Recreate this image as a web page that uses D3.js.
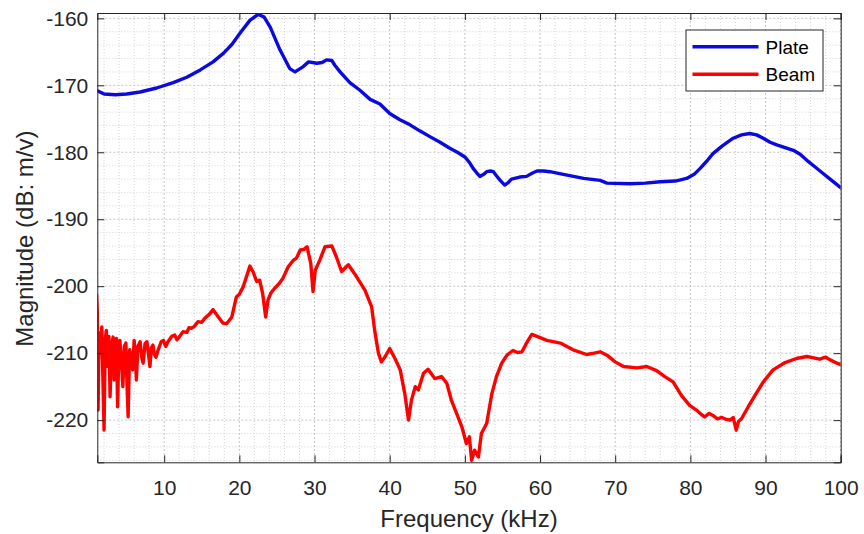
<!DOCTYPE html>
<html>
<head>
<meta charset="utf-8">
<script src="https://cdn.jsdelivr.net/npm/d3@7"></script>
<style>
  html, body { margin: 0; padding: 0; background: #ffffff; }
  svg { display: block; font-family: "Liberation Sans", Arial, Helvetica, sans-serif; }
</style>
</head>
<body>
<svg id="chart" width="864" height="534"></svg>
<script>
// ---- data ----
const plateFreq = [1.1, 2.0, 3.5, 5.0, 6.8, 9.0, 11.2, 13.0, 14.8, 16.5, 17.9, 19.0, 20.1, 21.4, 22.5, 23.3, 24.1, 25.4, 26.7, 27.4, 28.5, 29.2, 30.3, 31.0, 31.6, 32.3, 32.7, 33.4, 34.7, 36.0, 37.4, 38.7, 40.0, 41.3, 42.7, 44.0, 45.4, 46.7, 48.0, 49.0, 50.0, 50.6, 51.1, 51.6, 52.0, 52.5, 52.9, 53.4, 53.8, 54.2, 54.7, 55.3, 55.8, 56.2, 57.3, 58.2, 59.0, 59.6, 60.5, 61.3, 63.1, 65.8, 68.0, 68.9, 72.0, 74.0, 76.0, 78.0, 79.5, 80.5, 81.3, 82.2, 83.0, 84.3, 85.7, 86.8, 87.9, 88.8, 89.7, 90.6, 91.5, 92.6, 93.7, 94.6, 95.5, 96.6, 97.7, 98.8, 100.0];
const plateMag  = [-170.8, -171.3, -171.4, -171.3, -171.0, -170.4, -169.6, -168.8, -167.7, -166.5, -165.2, -163.9, -162.2, -160.3, -159.4, -159.8, -161.3, -164.7, -167.5, -168.0, -167.2, -166.5, -166.7, -166.6, -166.2, -166.3, -167.0, -168.0, -169.6, -170.7, -172.1, -172.8, -174.2, -175.1, -175.9, -176.8, -177.7, -178.5, -179.4, -180.0, -180.7, -181.5, -182.4, -183.1, -183.6, -183.3, -182.9, -182.8, -182.9, -183.5, -184.2, -184.9, -184.5, -184.0, -183.7, -183.6, -183.1, -182.8, -182.8, -182.9, -183.3, -183.9, -184.2, -184.6, -184.7, -184.6, -184.4, -184.3, -183.9, -183.3, -182.4, -181.3, -180.2, -179.0, -177.9, -177.4, -177.2, -177.4, -177.9, -178.5, -178.9, -179.3, -179.7, -180.3, -181.2, -182.2, -183.2, -184.2, -185.3];

const beamFreq = [1.0, 1.1, 1.2, 1.35, 1.5, 1.7, 1.85, 2.0, 2.15, 2.3, 2.5, 2.65, 2.8, 3.0, 3.2, 3.35, 3.5, 3.65, 3.8, 3.95, 4.1, 4.3, 4.5, 4.7, 4.9, 5.05, 5.2, 5.4, 5.6, 5.8, 6.0, 6.15, 6.3, 6.5, 6.8, 7.0, 7.2, 7.45, 7.7, 7.9, 8.1, 8.3, 8.5, 8.7, 8.9, 9.2, 9.6, 9.9, 10.2, 10.5, 11.0, 11.4, 11.7, 12.0, 12.5, 13.0, 13.3, 13.6, 14.0, 14.5, 15.0, 15.4, 16.0, 16.5, 17.2, 17.8, 18.3, 19.0, 19.6, 20.0, 20.5, 21.0, 21.4, 21.8, 22.3, 22.7, 23.1, 23.5, 23.8, 24.2, 24.7, 25.3, 25.8, 26.5, 27.2, 27.6, 28.1, 28.6, 29.0, 29.5, 29.8, 30.1, 30.7, 31.4, 32.3, 32.9, 33.6, 34.5, 35.6, 36.7, 37.6, 38.0, 38.5, 38.9, 39.4, 40.0, 40.7, 41.4, 42.0, 42.5, 42.9, 43.4, 43.8, 44.5, 45.1, 46.0, 46.9, 47.6, 48.2, 48.9, 49.6, 50.2, 50.6, 50.9, 51.3, 51.8, 52.2, 52.9, 53.6, 54.2, 54.9, 55.6, 56.4, 57.0, 57.6, 58.2, 58.9, 59.6, 60.9, 62.7, 64.4, 66.2, 67.2, 68.0, 68.9, 70.0, 71.1, 72.9, 74.2, 75.5, 76.6, 77.7, 78.8, 79.9, 80.8, 81.5, 81.9, 82.5, 83.0, 83.6, 84.2, 84.8, 85.3, 85.7, 86.1, 86.4, 86.8, 87.7, 88.6, 89.7, 91.0, 92.6, 94.1, 95.5, 96.4, 97.2, 98.0, 98.6, 99.5, 100.0];
const beamMag  = [-201.3, -204.0, -218.5, -207.0, -210.0, -206.1, -214.0, -221.5, -208.0, -206.6, -212.0, -207.5, -216.5, -209.0, -207.6, -214.0, -213.0, -207.8, -218.0, -210.5, -208.1, -211.0, -215.0, -209.0, -208.5, -214.5, -219.5, -209.5, -210.5, -212.5, -208.1, -210.0, -214.0, -209.0, -208.3, -210.5, -211.5, -208.6, -208.3, -210.0, -212.0, -209.2, -208.8, -210.2, -210.6, -209.5, -208.3, -208.1, -209.0, -208.3, -207.5, -207.3, -208.0, -207.6, -206.8, -206.9, -206.2, -206.3, -206.0, -205.3, -205.4, -204.8, -204.2, -203.5, -204.6, -205.5, -205.6, -204.6, -201.6, -201.2, -200.1, -198.4, -197.0, -197.8, -199.3, -199.1, -201.1, -204.6, -202.1, -201.0, -200.3, -199.6, -198.8, -197.1, -196.1, -195.8, -194.6, -194.5, -194.1, -196.6, -200.8, -197.6, -196.1, -194.1, -194.0, -195.6, -197.8, -196.8, -198.6, -200.6, -203.1, -206.6, -210.0, -211.3, -210.5, -209.3, -210.8, -212.5, -216.0, -220.0, -217.0, -215.0, -215.5, -213.0, -212.4, -213.8, -213.5, -214.5, -217.0, -219.0, -221.0, -223.5, -222.5, -226.0, -224.5, -225.5, -222.0, -220.5, -216.0, -213.5, -211.5, -210.3, -209.6, -209.9, -209.8, -208.5, -207.2, -207.5, -208.1, -208.5, -209.5, -210.2, -210.0, -209.8, -210.3, -211.3, -212.0, -212.2, -212.0, -212.6, -213.5, -214.3, -216.3, -217.8, -218.5, -219.2, -219.5, -219.0, -219.3, -219.8, -219.6, -219.9, -220.0, -219.6, -221.5, -220.2, -219.8, -218.0, -216.3, -214.3, -212.5, -211.4, -210.8, -210.5, -210.7, -210.9, -210.6, -211.0, -211.5, -211.7];

const xTicks = [10, 20, 30, 40, 50, 60, 70, 80, 90, 100];
const yTicks = [-220, -210, -200, -190, -180, -170, -160];
const seriesNames = ["Plate", "Beam"];
const seriesColors = ["#0a0ae0", "#ff0000"];
const xLabel = "Frequency (kHz)";
const yLabel = "Magnitude (dB: m/v)";

// ---- layout ----
const svg = d3.select("#chart");
const L = 97.3, R = 840.7, T = 13, B = 462.3;
const axisColor = "#262626";

const x = d3.scaleLinear().domain([1.1, 100]).range([L, R]);
const y = d3.scaleLinear().domain([-226.3, -159.2]).range([B, T]);

svg.append("rect").attr("width", 864).attr("height", 534).attr("fill", "#fff");
svg.append("rect").attr("x", L).attr("y", T).attr("width", R - L).attr("height", B - T).attr("fill", "#fff");

// grid
const grid = svg.append("g");
const xMinor = d3.range(2, 100, 2).filter(v => v % 10 !== 0);
const yMinor = d3.range(-226, -159, 2).filter(v => v % 10 !== 0);
grid.selectAll(".xm").data(xMinor).join("line")
  .attr("x1", d => x(d)).attr("x2", d => x(d)).attr("y1", T).attr("y2", B)
  .attr("stroke", "#d4d4d4").attr("stroke-width", 1).attr("stroke-dasharray", "1,2");
grid.selectAll(".ym").data(yMinor).join("line")
  .attr("y1", d => y(d)).attr("y2", d => y(d)).attr("x1", L).attr("x2", R)
  .attr("stroke", "#d4d4d4").attr("stroke-width", 1).attr("stroke-dasharray", "1,2");
grid.selectAll(".xM").data(xTicks).join("line")
  .attr("x1", d => x(d)).attr("x2", d => x(d)).attr("y1", T).attr("y2", B)
  .attr("stroke", "#c4c4c4").attr("stroke-width", 1).attr("stroke-dasharray", "2,2");
grid.selectAll(".yM").data(yTicks).join("line")
  .attr("y1", d => y(d)).attr("y2", d => y(d)).attr("x1", L).attr("x2", R)
  .attr("stroke", "#c4c4c4").attr("stroke-width", 1).attr("stroke-dasharray", "2,2");

// clip
svg.append("clipPath").attr("id", "clip").append("rect")
  .attr("x", L).attr("y", T).attr("width", R - L).attr("height", B - T);

const line = d3.line().x(d => x(d[0])).y(d => y(d[1]));
const plate = plateFreq.map((f, i) => [f, plateMag[i]]);
const beam = beamFreq.map((f, i) => [f, beamMag[i]]);

const plot = svg.append("g").attr("clip-path", "url(#clip)");
plot.append("path").datum(plate).attr("d", line)
  .attr("fill", "none").attr("stroke", seriesColors[0]).attr("stroke-width", 3.4)
  .attr("stroke-linejoin", "round").attr("stroke-linecap", "round");
plot.append("path").datum(beam).attr("d", line)
  .attr("fill", "none").attr("stroke", seriesColors[1]).attr("stroke-width", 3.4)
  .attr("stroke-linejoin", "round").attr("stroke-linecap", "round");

// axes
const tickLen = 7;
const fmt = d => String(d);
const xAxisB = d3.axisBottom(x).tickValues(xTicks).tickSize(-tickLen).tickPadding(17.5).tickFormat(fmt);
const xAxisT = d3.axisTop(x).tickValues(xTicks).tickSize(-tickLen).tickFormat("");
const yAxisL = d3.axisLeft(y).tickValues(yTicks).tickSize(-tickLen).tickPadding(9).tickFormat(fmt);
const yAxisR = d3.axisRight(y).tickValues(yTicks).tickSize(-tickLen).tickFormat("");

function styleAxis(g) {
  g.select(".domain").attr("stroke", axisColor).attr("stroke-width", 1);
  g.selectAll(".tick line").attr("stroke", axisColor).attr("stroke-width", 1);
  g.selectAll(".tick text").attr("fill", axisColor).style("font-size", "21px")
    .style("font-family", '"Liberation Sans", Arial, sans-serif');
}
svg.append("g").attr("transform", `translate(0,${B})`).call(xAxisB).call(styleAxis);
svg.append("g").attr("transform", `translate(0,${T})`).call(xAxisT).call(styleAxis);
svg.append("g").attr("transform", `translate(${L},0)`).call(yAxisL).call(styleAxis);
svg.append("g").attr("transform", `translate(${R},0)`).call(yAxisR).call(styleAxis);

// axis labels
svg.append("text").attr("x", (L + R) / 2).attr("y", 527).attr("text-anchor", "middle")
  .attr("fill", axisColor).style("font-size", "24px").text(xLabel);
svg.append("text").attr("transform", `translate(33,${(T + B) / 2 + 1}) rotate(-90)`)
  .attr("text-anchor", "middle").attr("fill", axisColor).style("font-size", "24px").text(yLabel);

// legend
const lg = svg.append("g");
lg.append("rect").attr("x", 686).attr("y", 30).attr("width", 137).attr("height", 61)
  .attr("fill", "#fff").attr("stroke", axisColor).attr("stroke-width", 1);
const rows = [46.7, 74.3];
seriesNames.forEach((name, i) => {
  lg.append("line").attr("x1", 692.5).attr("x2", 758.5).attr("y1", rows[i]).attr("y2", rows[i])
    .attr("stroke", seriesColors[i]).attr("stroke-width", 3.6);
  lg.append("text").attr("x", 765.5).attr("y", rows[i] + 6.8).attr("fill", "#000")
    .style("font-size", "19px").text(name);
});
</script>
</body>
</html>
